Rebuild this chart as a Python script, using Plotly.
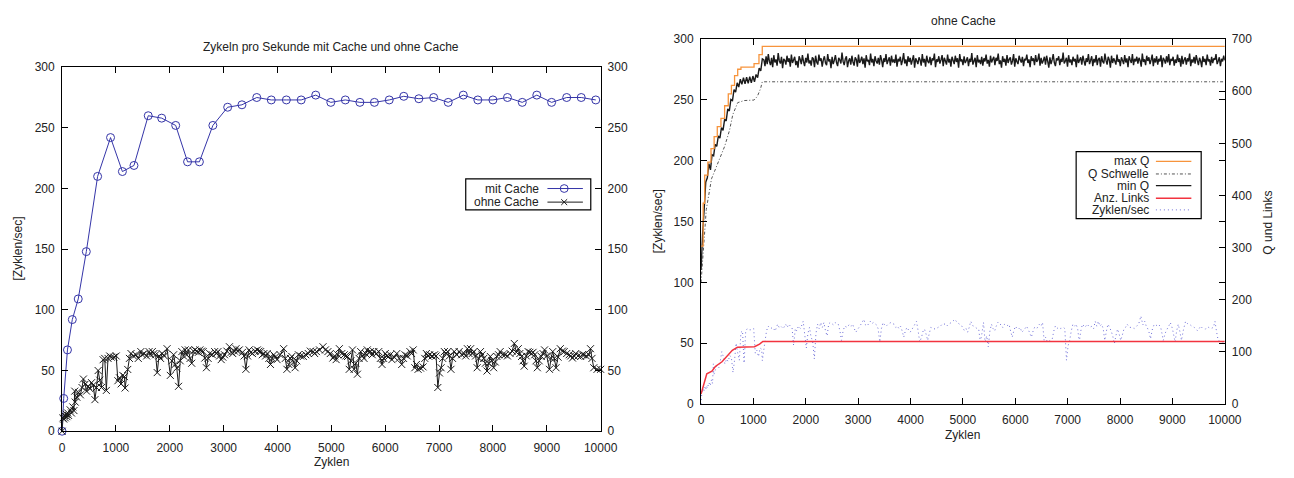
import plotly.graph_objects as go

# ---------------- data ----------------
# left chart: "mit Cache"
mit_x = [0, 30, 100, 190, 300, 450, 660, 900, 1120, 1335, 1600, 1850, 2110, 2330, 2550, 2800,
         3075, 3340, 3615, 3885, 4165, 4440, 4710, 4990, 5260, 5530, 5800, 6075, 6345, 6625,
         6900, 7170, 7450, 7720, 8000, 8270, 8545, 8815, 9090, 9370, 9640, 9910]
mit_y = [0, 27, 67, 92, 109, 148, 210, 242, 214, 219, 260, 258, 252, 222, 222, 252,
         267, 269, 275, 273, 273, 273, 277, 271, 273, 271, 271, 273, 276, 274,
         275, 271, 277, 273, 273, 275, 271, 277, 271, 275, 275, 273]

# "ohne Cache" (also the "Zyklen/sec" series of the right chart)
ohne_x = [0, 18, 30, 45, 60, 75, 90, 105, 120, 150, 175, 200, 220, 235, 244, 274, 305, 340, 370, 396,
          427, 455, 488, 518, 548, 580, 610, 640, 670, 700, 731, 762, 792, 822, 853, 884, 914, 960, 1005, 1036,
          1066, 1097, 1128, 1158, 1170, 1219, 1250, 1280, 1325, 1371, 1415, 1462, 1490, 1523, 1570, 1615, 1645, 1675, 1706, 1737,
          1767, 1800, 1828, 1858, 1900, 1950, 2010, 2040, 2071, 2100, 2130, 2163, 2194, 2224, 2255, 2285, 2316, 2346, 2377, 2407,
          2438, 2468, 2500, 2530, 2559, 2590, 2620, 2651, 2681, 2712, 2742, 2790, 2833, 2865, 2894, 2925, 2955, 2985, 3016, 3060,
          3108, 3140, 3169, 3200, 3230, 3260, 3291, 3350, 3380, 3413, 3444, 3474, 3505, 3535, 3580, 3626, 3657, 3687, 3718, 3748,
          3779, 3809, 3840, 3870, 3900, 3931, 3960, 3992, 4050, 4114, 4145, 4175, 4210, 4240, 4266, 4300, 4327, 4358, 4388, 4430,
          4480, 4525, 4571, 4610, 4662, 4690, 4723, 4780, 4845, 4890, 4936, 4980, 5028, 5060, 5089, 5120, 5149, 5195, 5240, 5270,
          5301, 5332, 5362, 5393, 5423, 5454, 5484, 5515, 5545, 5575, 5606, 5636, 5667, 5700, 5728, 5760, 5789, 5835, 5880, 5910,
          5941, 5970, 6002, 6032, 6063, 6093, 6124, 6170, 6215, 6260, 6307, 6340, 6368, 6410, 6459, 6490, 6520, 6550, 6580, 6611,
          6656, 6703, 6735, 6764, 6795, 6825, 6870, 6917, 6945, 6977, 7008, 7038, 7068, 7099, 7130, 7160, 7190, 7221, 7250, 7282,
          7330, 7373, 7420, 7465, 7495, 7526, 7556, 7586, 7615, 7647, 7678, 7708, 7740, 7769, 7800, 7830, 7860, 7891, 7920, 7952,
          7980, 8013, 8045, 8074, 8105, 8135, 8180, 8227, 8270, 8318, 8357, 8397, 8435, 8471, 8500, 8532, 8560, 8581, 8620, 8654,
          8685, 8715, 8745, 8776, 8800, 8825, 8860, 8898, 8930, 8959, 9000, 9050, 9080, 9111, 9140, 9172, 9210, 9251, 9290, 9324,
          9370, 9416, 9445, 9477, 9510, 9538, 9580, 9629, 9660, 9690, 9735, 9782, 9812, 9840, 9873, 9934, 10000]
ohne_y = [0, 11, 10, 13, 11, 14, 12, 15, 13, 17.6, 15, 20, 17, 33, 24, 28, 32, 30, 36, 43,
          38.7, 33, 37, 35, 40, 38, 26, 36, 50, 42, 36, 58.9, 60, 33.6, 60, 62, 61, 61, 62, 41.6,
          44, 39, 46, 45, 35.6, 50.9, 60, 64, 62, 63, 60, 65.6, 63, 64, 62, 65.6, 63, 65.6, 64, 63,
          48.3, 62, 60, 64, 62, 68, 46, 58, 63, 55, 52, 37, 58, 65.6, 62, 67, 63, 67, 60, 56,
          66, 67, 66, 65, 67, 66, 65.6, 60.3, 52.3, 60, 64, 63, 65.6, 64, 65.6, 62, 59, 61, 63, 66,
          69.6, 65, 64, 66, 68, 66, 67, 65, 62, 51, 62, 67, 65, 64, 66, 67, 66, 65.6, 63, 64,
          62, 64, 60, 55, 60, 63, 61, 59, 63, 68, 60, 51, 55, 60, 61.6, 57, 52.3, 58, 63, 62,
          61.6, 63, 64, 66, 65.6, 64, 65.6, 67, 69.6, 67, 65.6, 64, 60.3, 62, 59, 63, 68, 64, 63, 62,
          61.6, 51, 58, 67, 51, 56, 47, 60, 65.6, 62, 60, 64, 67, 65, 65.6, 63, 65.6, 64, 65.6, 60,
          55, 60, 64, 62, 61.6, 63, 59, 61, 64, 60, 55, 60, 63, 62, 65.6, 64, 67, 52.3, 55, 51,
          52, 53, 60, 64, 62, 63, 62, 63, 62, 36, 48, 52.3, 60, 65.6, 64, 65.6, 62, 51, 60, 65.6,
          63, 65.6, 63, 64, 62, 68, 64, 68, 64, 65.6, 62, 52.3, 60, 65.6, 63, 60, 56, 49.6, 56, 61.6,
          58, 52.3, 57, 61.6, 63, 65.6, 63, 63, 62, 64, 66, 72.3, 65, 68, 64, 61.6, 58, 53.6, 62, 65.6,
          65, 64, 65, 63, 58, 52.3, 58, 61.6, 64, 67, 62, 51, 60, 65.6, 60, 52.3, 61, 68, 66, 65.6,
          64, 63, 62, 60.3, 62, 64, 62, 61.6, 63, 63, 62, 63, 68, 60, 52.3, 51, 51]

# right chart (values on the "Q und Links" axis, 0..700)
maxq_x = [0, 40, 70, 130, 190, 250, 310, 380, 450, 520, 580, 640, 700, 762, 1012, 1106, 1169, 10000]
maxq_y = [303, 385, 439, 464, 490, 513, 532, 548, 572, 595, 611, 630, 642, 646, 653, 670, 686, 686]

schwelle_x = [0, 100, 200, 325, 450, 544, 606, 700, 825, 1012, 1075, 1137, 1169, 10000]
schwelle_y = [233, 373, 432, 462, 494, 525, 555, 578, 582, 583, 590, 605, 618, 618]

minq_rise_x = [0, 30, 60, 90, 120, 150, 180, 210, 240, 270, 300, 330, 360, 390, 420, 450, 480, 510, 540, 570,
               600, 630, 660, 690, 720, 750, 780, 810, 840, 870, 900, 930, 960, 990, 1020, 1050, 1080, 1110, 1140, 1170]
minq_rise_y = [257, 326, 374, 426, 434, 461, 449, 478, 476, 498, 494, 514, 510, 530, 525, 546, 543, 566, 562, 584,
               582, 603, 598, 616, 608, 623, 613, 626, 614, 627, 615, 628, 616, 629, 618, 632, 626, 644, 639, 662]
minq_plateau_y = [
    660, 648, 667, 652, 671, 657, 650, 664, 646, 669, 655, 661, 649, 673, 658, 653, 666, 644, 662, 659,
    651, 668, 656, 663, 647, 670, 654, 660, 666, 650, 658, 645, 667, 661, 652, 669, 657, 648, 664, 655,
    672, 653, 659, 649, 665, 662, 646, 668, 656, 651, 670, 658, 663, 647, 660, 667, 654, 650, 671, 657,
    661, 644, 666, 652, 659, 669, 655, 648, 664, 660, 653, 674, 657, 650, 662, 667, 646, 658, 663, 651,
    668, 656, 649, 665, 661, 647, 670, 654, 659, 666, 652, 663, 645, 669, 657, 660, 650, 672, 655, 662,
    648, 667, 658, 653, 664, 651, 669, 660, 646, 663, 656, 671, 652, 659, 665, 649, 668, 655, 661, 654,
    670, 647, 662, 657, 666, 650, 659, 673, 653, 661, 648, 667, 656, 664, 651, 660, 669, 645, 663, 658,
    652, 665, 660, 649, 671, 655, 662, 647, 668, 657, 654, 666, 650, 663, 659, 672, 646, 661, 656, 667,
    653, 660, 669, 648, 664, 658, 651, 670, 655, 662, 647, 666, 659, 652, 668, 656, 663, 645, 671, 657,
    661, 650, 667, 654, 659, 665, 648, 662, 656, 673, 651, 658, 664, 646, 669, 655, 660, 652, 666, 649,
    663, 657, 670, 653, 660, 647, 668, 655, 661, 666, 650, 664, 658, 672, 652, 659, 645, 667, 656, 662,
    649, 669, 654, 661, 665, 651, 658, 671, 647, 663, 657, 652, 668, 660, 655, 666, 648, 662, 659, 670,
    654, 661, 646, 667, 658, 663, 650, 669, 656, 660, 672, 649, 664, 653, 659, 666, 651, 668, 657, 645,
    665, 652, 660, 671, 655, 648, 663, 659, 667, 650, 662, 656, 674, 653, 658, 664, 647, 669, 655, 661,
    650, 666, 657, 662, 646, 670, 654, 660, 665, 651, 668, 658, 649, 663, 656, 671, 652, 659, 667, 648,
    662, 655, 669, 650, 661, 664, 647, 667, 657, 653, 672, 659, 651, 666, 660, 645, 668, 654, 663, 658,
    651, 670, 656, 661, 648, 665, 659, 652, 669, 655, 663, 646, 667, 660, 654, 671, 650, 662, 657, 666,
    653, 664, 659, 647, 672, 656, 661, 650, 668, 658, 665, 652, 660, 670, 648, 663, 655, 667, 651, 662,
    657, 669, 646, 664, 660, 653, 667, 655, 671, 650, 662, 658, 666, 649, 661, 654, 670, 656, 663, 647,
    668, 652, 660, 665, 651, 663, 657, 672, 648, 661, 655, 666, 653, 669, 659, 650, 664, 658, 646, 667,
    656, 662, 650, 670, 657, 661, 649, 666, 654, 663, 660, 671, 652, 658, 665, 648, 662, 657, 668, 659]
minq_plateau_start = 1200
minq_plateau_end = 10000

links_x = [0, 110, 208, 273, 400, 500, 597, 695, 1020, 1117, 1180, 10000]
links_y = [19, 58, 63, 72, 81, 93, 103, 109, 110, 115, 120, 120]

x_ticks = [0, 1000, 2000, 3000, 4000, 5000, 6000, 7000, 8000, 9000, 10000]
x_ticktext = ["0", "1000", "2000", "3000", "4000", "5000", "6000", "7000", "8000", "9000", "10000"]

# ---------------- geometry helpers ----------------
W, H = 1294, 478
def px(x):
    return x / W
def py(y):
    return 1 - y / H

n = len(minq_plateau_y)
step = (minq_plateau_end - minq_plateau_start) / (n - 1)
minq_plateau_x = [minq_plateau_start + i * step for i in range(n)]
minq_x = minq_rise_x + minq_plateau_x
minq_y = minq_rise_y + minq_plateau_y

FONT = "Liberation Sans, Arial, sans-serif"
TXT = "#222222"
BLUE = "#3535a8"
BLACK = "#1a1a1a"
ORANGE = "#f7943c"
GRAY = "#555555"
RED = "#f2333f"
DOTBLUE = "#7070d8"
SCHWELLE_DASH = "3px,2px,1px,2px"
DOT_DASH = "1px,3px"

fig = go.Figure()

# left chart
fig.add_trace(go.Scatter(x=mit_x, y=mit_y, name="mit Cache", mode="lines+markers",
                         line=dict(color=BLUE, width=1),
                         marker=dict(symbol="circle-open", size=8, color=BLUE, line=dict(width=1)),
                         xaxis="x", yaxis="y", cliponaxis=False, showlegend=False))
fig.add_trace(go.Scatter(x=ohne_x, y=ohne_y, name="ohne Cache", mode="lines+markers",
                         line=dict(color=BLACK, width=1, simplify=False),
                         marker=dict(symbol="x-thin-open", size=7, color=BLACK, line=dict(width=1, color=BLACK)),
                         xaxis="x", yaxis="y", cliponaxis=False, showlegend=False))
# helper trace so the mirrored right-hand labels of the left chart are drawn
fig.add_trace(go.Scatter(x=[0], y=[0], mode="lines", line=dict(width=0), hoverinfo="skip",
                         xaxis="x", yaxis="y2", showlegend=False))

# right chart
fig.add_trace(go.Scatter(x=ohne_x, y=ohne_y, name="Zyklen/sec", mode="lines",
                         line=dict(color=DOTBLUE, width=1, dash=DOT_DASH, simplify=False),
                         xaxis="x2", yaxis="y3", showlegend=False))
fig.add_trace(go.Scatter(x=schwelle_x, y=schwelle_y, name="Q Schwelle", mode="lines",
                         line=dict(color=GRAY, width=1, dash=SCHWELLE_DASH),
                         xaxis="x2", yaxis="y4", showlegend=False))
fig.add_trace(go.Scatter(x=minq_x, y=minq_y, name="min Q", mode="lines",
                         line=dict(color=BLACK, width=1.4, simplify=False),
                         xaxis="x2", yaxis="y4", showlegend=False))
fig.add_trace(go.Scatter(x=maxq_x, y=maxq_y, name="max Q", mode="lines",
                         line=dict(color=ORANGE, width=1.3, shape="hv"),
                         xaxis="x2", yaxis="y4", showlegend=False))
fig.add_trace(go.Scatter(x=links_x, y=links_y, name="Anz. Links", mode="lines",
                         line=dict(color=RED, width=1.5),
                         xaxis="x2", yaxis="y4", showlegend=False))

tickfont = dict(family=FONT, size=12, color=TXT)
common = dict(showline=True, linecolor="black", linewidth=1, ticks="inside", ticklen=6,
              tickcolor="black", showgrid=False, zeroline=False, tickfont=tickfont)

fig.update_layout(
    width=W, height=H, margin=dict(l=0, r=0, t=0, b=0),
    paper_bgcolor="white", plot_bgcolor="white",
    showlegend=False,
    xaxis=dict(domain=[px(60), px(607)], anchor="y", range=[0, 10000], tickvals=x_ticks,
               ticktext=x_ticktext, mirror="ticks", ticklabelstandoff=5, **common),
    yaxis=dict(domain=[py(437), py(62)], anchor="x", range=[0, 300], dtick=50,
               mirror="ticks", ticklabelstandoff=4, **common),
    yaxis2=dict(overlaying="y", side="right", anchor="x", range=[0, 300], dtick=50,
                showline=False, ticks="", showgrid=False, zeroline=False, tickfont=tickfont,
                ticklabelstandoff=6),
    xaxis2=dict(domain=[px(709), px(1241)], anchor="y3", range=[0, 10000], tickvals=x_ticks,
                ticktext=x_ticktext, mirror="ticks", ticklabelstandoff=5, **common),
    yaxis3=dict(domain=[py(409), py(33)], anchor="x2", range=[0, 300], dtick=50,
                mirror="ticks", ticklabelstandoff=4, **common),
    yaxis4=dict(overlaying="y3", side="right", anchor="x2", range=[0, 700], dtick=100,
                showline=False, ticks="inside", ticklen=6, tickcolor="black",
                showgrid=False, zeroline=False, tickfont=tickfont, ticklabelstandoff=6),
)

ann_font = dict(family=FONT, size=12, color=TXT)
def ann(text, x, y, angle=0, xanchor="center"):
    fig.add_annotation(text=text, x=px(x), y=py(y), xref="paper", yref="paper",
                       showarrow=False, textangle=angle, xanchor=xanchor, yanchor="middle",
                       font=ann_font)

ann("Zykeln pro Sekunde mit Cache und ohne Cache", 333, 41)
ann("ohne Cache", 976, 14)
ann("Zyklen", 334, 469)
ann("Zyklen", 975, 441)
ann("[Zyklen/sec]", 15, 249, -90)
ann("[Zyklen/sec]", 665, 221, -90)
ann("Q und Links", 1285, 222, -90)

def hline(x0, x1, y, color, width=1, dash="solid"):
    fig.add_shape(type="line", xref="paper", yref="paper", x0=px(x0), x1=px(x1), y0=py(y), y1=py(y),
                  line=dict(color=color, width=width, dash=dash))

def rect(x0, y0, x1, y1):
    fig.add_shape(type="rect", xref="paper", yref="paper", x0=px(x0), x1=px(x1), y0=py(y1), y1=py(y0),
                  line=dict(color="black", width=1.2), fillcolor="white", layer="above")

# left legend
rect(470, 177, 597, 209)
ann("mit Cache", 546, 187, xanchor="right")
ann("ohne Cache", 546, 201, xanchor="right")
hline(553, 589, 187, BLUE)
fig.add_shape(type="circle", xref="paper", yref="paper", x0=px(566), x1=px(574), y0=py(191), y1=py(183),
              line=dict(color=BLUE, width=1))
hline(553, 589, 201, BLACK)
fig.add_shape(type="line", xref="paper", yref="paper", x0=px(567), x1=px(573), y0=py(198), y1=py(204),
              line=dict(color=BLACK, width=1))
fig.add_shape(type="line", xref="paper", yref="paper", x0=px(567), x1=px(573), y0=py(204), y1=py(198),
              line=dict(color=BLACK, width=1))

# right legend
rect(1090, 149, 1217, 218)
entries = [("max Q", 159, ORANGE, "solid", 1.3),
           ("Q Schwelle", 172, GRAY, SCHWELLE_DASH, 1),
           ("min Q", 184, BLACK, "solid", 1.3),
           ("Anz. Links", 197, RED, "solid", 1.5),
           ("Zyklen/sec", 209, DOTBLUE, DOT_DASH, 1)]
for label, y, color, dash, w in entries:
    ann(label, 1166, y, xanchor="right")
    hline(1171, 1207, y, color, w, dash)

fig.write_html("out.html")
